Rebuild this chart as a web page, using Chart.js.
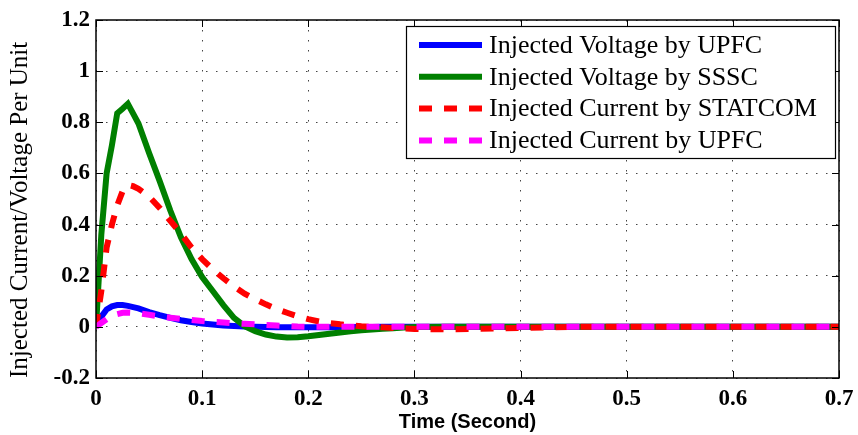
<!DOCTYPE html>
<html lang="en">
<head>
<meta charset="UTF-8">
<title>Injected Current/Voltage Per Unit</title>
<script src="https://cdn.jsdelivr.net/npm/chart.js@4.4.1/dist/chart.umd.min.js"></script>
<style>
  body { margin: 0; background: #fff; }
  canvas { display: block; }
</style>
</head>
<body>
<canvas id="injChart" width="858" height="435"></canvas>
<script>
// time samples (s)
const time = [0, 0.005, 0.01, 0.015, 0.02, 0.025, 0.03, 0.035, 0.04,
  0.05, 0.06, 0.07, 0.08, 0.09, 0.10, 0.11, 0.12, 0.13, 0.14, 0.15, 0.16, 0.17, 0.18, 0.19,
  0.20, 0.21, 0.22, 0.23, 0.24, 0.25, 0.26, 0.27, 0.28, 0.29, 0.30,
  0.33, 0.36, 0.40, 0.45, 0.50, 0.60, 0.70];

// per-unit responses
const upfcVoltage = [0, 0.04, 0.068, 0.08, 0.085, 0.085, 0.082, 0.077, 0.072,
  0.058, 0.046, 0.035, 0.026, 0.019, 0.013, 0.009, 0.005, 0.003, 0.001, 0, -0.001, -0.002, -0.002, -0.002,
  -0.002, -0.002, -0.002, -0.001, -0.001, -0.001, -0.001, 0, 0, 0, 0,
  0, 0, 0, 0, 0, 0, 0];
const ssscVoltage = [0, 0.36, 0.60, 0.71, 0.835, 0.853, 0.872, 0.834, 0.795,
  0.68, 0.57, 0.455, 0.35, 0.265, 0.195, 0.14, 0.085, 0.035, 0.003, -0.017, -0.03, -0.038, -0.042, -0.041,
  -0.037, -0.032, -0.027, -0.022, -0.017, -0.013, -0.01, -0.007, -0.005, -0.003, -0.001,
  0, 0, 0, 0, 0, 0, 0];
const statcomCurrent = [0, 0.14, 0.31, 0.40, 0.475, 0.53, 0.555, 0.55, 0.54,
  0.51, 0.465, 0.415, 0.365, 0.31, 0.265, 0.225, 0.19, 0.158, 0.13, 0.108, 0.088, 0.07, 0.055, 0.041,
  0.03, 0.021, 0.015, 0.01, 0.006, 0.002, 0, -0.002, -0.004, -0.006, -0.008,
  -0.01, -0.008, -0.004, 0, 0, 0, 0];
const upfcCurrent = [0, 0.015, 0.03, 0.042, 0.05, 0.055, 0.056, 0.055, 0.053,
  0.047, 0.041, 0.036, 0.031, 0.027, 0.023, 0.02, 0.017, 0.014, 0.012, 0.01, 0.007, 0.005, 0.003, 0.001,
  0, 0, 0, 0, 0, 0, 0, 0, 0, 0, 0,
  0, 0, 0, 0, 0, 0, 0];

const seriesLabels = ['Injected Voltage by UPFC', 'Injected Voltage by SSSC',
  'Injected Current by STATCOM', 'Injected Current by UPFC'];
const xTicks = [0, 0.1, 0.2, 0.3, 0.4, 0.5, 0.6, 0.7];
const yTicks = [-0.2, 0, 0.2, 0.4, 0.6, 0.8, 1, 1.2];

const toPoints = ys => ys.map((y, i) => ({ x: time[i], y: y }));

// box around the axes, inward ticks and the legend panel
const framePlugin = {
  id: 'frame',
  afterDraw(chart) {
    const { ctx, chartArea: a, scales: { x, y } } = chart;
    const tick = 7;
    ctx.save();
    ctx.strokeStyle = '#000';
    ctx.lineWidth = 1;
    ctx.beginPath();
    xTicks.forEach(v => {
      const px = Math.round(x.getPixelForValue(v)) + 0.5;
      ctx.moveTo(px, a.bottom); ctx.lineTo(px, a.bottom - tick);
      ctx.moveTo(px, a.top); ctx.lineTo(px, a.top + tick);
    });
    yTicks.forEach(v => {
      const py = Math.round(y.getPixelForValue(v)) + 0.5;
      ctx.moveTo(a.left, py); ctx.lineTo(a.left + tick, py);
      ctx.moveTo(a.right, py); ctx.lineTo(a.right - tick, py);
    });
    ctx.stroke();
    ctx.lineWidth = 1.5;
    ctx.strokeRect(a.left, a.top, a.right - a.left, a.bottom - a.top);

    // legend
    const lx = a.right - 433, ly = a.top + 6, lw = 429, lh = 132;
    ctx.fillStyle = '#fff';
    ctx.fillRect(lx, ly, lw, lh);
    ctx.lineWidth = 1.2;
    ctx.strokeRect(lx + 0.5, ly + 0.5, lw, lh);
    ctx.font = '26px "Liberation Serif", "Times New Roman", serif';
    ctx.textBaseline = 'middle';
    ctx.textAlign = 'left';
    chart.data.datasets.forEach((ds, i) => {
      const ry = ly + 19 + i * 31.8;
      ctx.strokeStyle = ds.borderColor;
      ctx.lineWidth = ds.borderWidth;
      ctx.setLineDash(ds.borderDash || []);
      ctx.beginPath();
      ctx.moveTo(lx + 13, ry);
      ctx.lineTo(lx + 76, ry);
      ctx.stroke();
      ctx.setLineDash([]);
      ctx.fillStyle = '#000';
      ctx.fillText(ds.label, lx + 83, ry + 1);
    });
    ctx.restore();
  }
};

const common = { pointRadius: 0, borderWidth: 6, tension: 0, fill: false };

new Chart(document.getElementById('injChart'), {
  type: 'line',
  data: {
    datasets: [
      { ...common, label: seriesLabels[0], data: toPoints(upfcVoltage), borderColor: '#0000ff', order: 3 },
      { ...common, label: seriesLabels[1], data: toPoints(ssscVoltage), borderColor: '#008000', order: 2 },
      { ...common, label: seriesLabels[2], data: toPoints(statcomCurrent), borderColor: '#ff0000', borderDash: [13, 12], order: 1 },
      { ...common, label: seriesLabels[3], data: toPoints(upfcCurrent), borderColor: '#ff00ff', borderDash: [13, 12], order: 0 }
    ]
  },
  options: {
    responsive: false,
    animation: false,
    layout: { padding: { top: 20, right: 19, left: 0, bottom: 0 } },
    plugins: { legend: { display: false }, tooltip: { enabled: false } },
    scales: {
      x: {
        type: 'linear',
        min: 0, max: 0.7,
        afterBuildTicks: s => { s.ticks = xTicks.map(v => ({ value: v })); },
        afterFit: s => { s.height = 57; s.paddingLeft = 0; s.paddingRight = 0; },
        ticks: {
          autoSkip: false, maxRotation: 0, padding: 7, color: '#000',
          font: { family: '"Liberation Serif", "Times New Roman", serif', size: 23, weight: 'bold' },
          callback: v => String(v)
        },
        grid: { color: '#444', lineWidth: 1, drawTicks: false },
        border: { display: false, dash: [1.5, 8.5] },
        title: {
          display: true, text: 'Time (Second)', color: '#000',
          font: { family: '"Liberation Sans", Arial, sans-serif', size: 20, weight: 'bold' },
          padding: { top: 0, bottom: 1 }
        }
      },
      y: {
        type: 'linear',
        min: -0.2, max: 1.2,
        afterBuildTicks: s => { s.ticks = yTicks.map(v => ({ value: v })); },
        afterFit: s => { s.width = 96; s.paddingTop = 0; s.paddingBottom = 0; },
        ticks: {
          padding: 6, color: '#000',
          font: { family: '"Liberation Serif", "Times New Roman", serif', size: 23, weight: 'bold' },
          callback: v => String(v)
        },
        grid: { color: '#444', lineWidth: 1, drawTicks: false },
        border: { display: false, dash: [1.5, 8.5] },
        title: {
          display: true, text: 'Injected Current/Voltage Per Unit', color: '#000', align: 'start',
          font: { family: '"Liberation Serif", "Times New Roman", serif', size: 25 },
          padding: { top: 5, bottom: 0 }
        }
      }
    }
  },
  plugins: [framePlugin]
});
</script>
</body>
</html>
